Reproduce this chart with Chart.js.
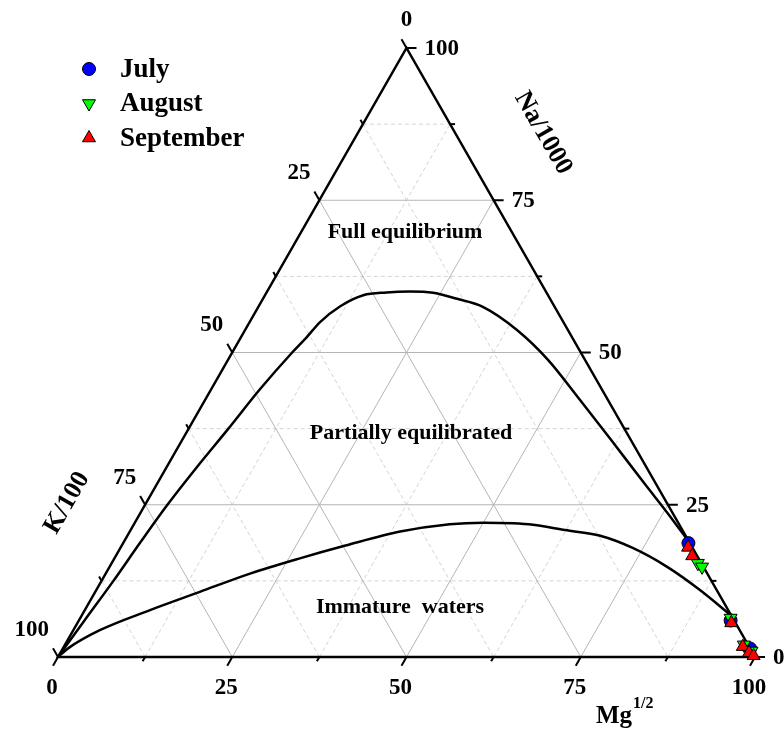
<!DOCTYPE html>
<html>
<head>
<meta charset="utf-8">
<script src="https://cdn.jsdelivr.net/npm/chart.js@4.4.1/dist/chart.umd.min.js"></script>
<style>
  html, body { margin: 0; padding: 0; background: #fff; }
  #wrap { width: 784px; height: 732px; }
</style>
</head>
<body>
<div id="wrap"><canvas id="giggenbach"></canvas></div>
<script>
// --- ticks of the three ternary axes (%) ---
const majorTicks = [0, 25, 50, 75, 100];
const minorTicks = [12.5, 37.5, 62.5, 87.5];

// --- boundary curves: Na/1000 and Mg^1/2 in %, K/100 is the remainder ---
const fullEqNa = [0, 6, 12.5, 18.8, 25, 31, 37.5, 44, 50, 52.4, 55.0, 57.6, 59.4, 59.85, 60.0, 59.8, 58.9, 57.5, 53.7, 48.8, 42.2, 35.5, 28.4, 23.5, 18.7];
const fullEqMg = [0, 0.8, 1.7, 2.4, 3.2, 4.3, 5.7, 7.0, 8.6, 9.4, 10.1, 11.7, 14.1, 17.2, 20.5, 23.9, 27.5, 32.2, 39.0, 45.9, 53.8, 61.7, 70.0, 75.8, 81.3];

const immatureNa = [0, 1.5, 4.4, 7.7, 10.7, 13.7, 16.2, 18.3, 20.6, 21.8, 22.05, 21.95, 21.7, 20.85, 19.9, 17.9, 14.8, 11.0, 6.8];
const immatureMg = [0, 0.8, 3.8, 9.35, 15.0, 20.7, 26.6, 32.1, 38.8, 45.3, 50.0, 54.3, 57.3, 62.3, 67.85, 73.5, 80.0, 86.6, 93.2];

// --- water samples (Na/1000, K/100, Mg^1/2) ---
const julyNa = [18.7, 6.0, 1.4];
const julyK  = [0.2, 0.5, 0.0];
const julyMg = [81.1, 93.5, 98.6];

const augustNa = [15.4, 14.8, 6.4, 2.0, 1.0];
const augustK  = [0.5, 0.2, 0.3, 0.6, 0.0];
const augustMg = [84.1, 85.0, 93.3, 97.4, 99.0];

const septemberNa = [18.0, 16.6, 5.6, 1.7, 0.7, 0.2];
const septemberK  = [0.6, 0.7, 0.6, 0.9, 0.5, 0.1];
const septemberMg = [81.4, 82.7, 93.8, 97.4, 98.8, 99.7];

const FONT = '"Liberation Serif", "Times New Roman", serif';

// ternary -> cartesian (x along the Mg base, y = Na height)
function toXY(na, k, mg) {
    const s = na + k + mg;
    return { x: (mg + na / 2) / s * 100, y: na / s * 100 };
}
function samples(na, k, mg) {
    return na.map((v, i) => toXY(v, k[i], mg[i]));
}
function curve(na, mg) {
    return na.map((v, i) => toXY(v, 100 - v - mg[i], mg[i]));
}

// --- triangle frame, grid, ticks and labels ---
const ternaryAxes = {
    id: 'ternaryAxes',
    beforeDraw(chart) {
        const ctx = chart.ctx;
        ctx.save();
        ctx.fillStyle = '#fff';
        ctx.fillRect(0, 0, chart.width, chart.height);
        ctx.restore();
    },
    beforeDatasetsDraw(chart) {
        const ctx = chart.ctx;
        const P = (na, mg) => {
            const p = toXY(na, 100 - na - mg, mg);
            return [chart.scales.x.getPixelForValue(p.x), chart.scales.y.getPixelForValue(p.y)];
        };
        const seg = (a, b) => {
            ctx.beginPath();
            ctx.moveTo(a[0], a[1]);
            ctx.lineTo(b[0], b[1]);
            ctx.stroke();
        };
        ctx.save();
        // grid lines
        const gridFamily = (v) => {
            seg(P(v, 0), P(v, 100 - v));           // Na = v
            seg(P(0, v), P(100 - v, v));           // Mg = v
            seg(P(100 - v, 0), P(0, 100 - v));     // K = v
        };
        ctx.lineWidth = 1;
        ctx.strokeStyle = '#d4d4d4';
        ctx.setLineDash([4, 3]);
        minorTicks.forEach(gridFamily);
        ctx.setLineDash([]);
        ctx.strokeStyle = '#b5b5b5';
        [25, 50, 75].forEach(gridFamily);

        // frame
        ctx.strokeStyle = '#000';
        ctx.lineWidth = 2.5;
        ctx.lineJoin = 'miter';
        const a = P(0, 0), b = P(0, 100), c = P(100, 0);
        ctx.beginPath();
        ctx.moveTo(a[0], a[1]);
        ctx.lineTo(b[0], b[1]);
        ctx.lineTo(c[0], c[1]);
        ctx.closePath();
        ctx.stroke();

        // ticks pointing outwards along each axis' grid direction
        const c60 = 0.5, s60 = Math.sqrt(3) / 2;
        const tick = (pt, dx, dy, len) => seg(pt, [pt[0] + dx * len, pt[1] + dy * len]);
        ctx.lineWidth = 2;
        const drawTicks = (vals, len) => vals.forEach(v => {
            tick(P(v, 100 - v), 1, 0, len);          // Na, right side
            tick(P(100 - v, 0), -c60, -s60, len);    // K, left side
            tick(P(0, v), -c60, s60, len);           // Mg, base
        });
        drawTicks(majorTicks, 10);
        drawTicks(minorTicks, 5);
        ctx.restore();
    },
    afterDatasetsDraw(chart) {
        const ctx = chart.ctx;
        const P = (na, mg) => {
            const p = toXY(na, 100 - na - mg, mg);
            return [chart.scales.x.getPixelForValue(p.x), chart.scales.y.getPixelForValue(p.y)];
        };
        ctx.save();
        ctx.fillStyle = '#000';
        ctx.font = 'bold 23px ' + FONT;

        // tick labels
        majorTicks.forEach(v => {
            let p = P(v, 100 - v);
            ctx.textAlign = 'left';
            ctx.textBaseline = 'middle';
            ctx.fillText(String(v), p[0] + 18, p[1] + 1);

            p = P(0, v);
            ctx.textAlign = 'center';
            ctx.textBaseline = 'top';
            ctx.fillText(String(v), p[0] - 6, p[1] + 20);

            p = P(100 - v, 0);
            ctx.textBaseline = 'middle';
            if (v === 0) {
                ctx.textAlign = 'center';
                ctx.fillText('0', p[0], p[1] - 28);
            } else {
                ctx.textAlign = 'right';
                ctx.fillText(String(v), p[0] - 9, p[1] - 27);
            }
        });

        // axis titles
        ctx.font = 'bold 26px ' + FONT;
        ctx.textAlign = 'center';
        ctx.textBaseline = 'middle';
        ctx.save();
        ctx.translate(543, 133);
        ctx.rotate(Math.PI / 3);
        ctx.fillText('Na/1000', 0, 0);
        ctx.restore();
        ctx.save();
        ctx.translate(67, 503);
        ctx.rotate(-Math.PI / 3);
        ctx.fillText('K/100', 0, 0);
        ctx.restore();

        ctx.textAlign = 'left';
        ctx.textBaseline = 'alphabetic';
        ctx.font = 'bold 25px ' + FONT;
        ctx.fillText('Mg', 596, 723);
        const mw = ctx.measureText('Mg').width;
        ctx.font = 'bold 16px ' + FONT;
        ctx.fillText('1/2', 596 + mw + 1, 708);

        // region names
        ctx.font = 'bold 22px ' + FONT;
        ctx.textAlign = 'center';
        ctx.textBaseline = 'middle';
        ctx.fillText('Full equilibrium', 405, 232);
        ctx.fillText('Partially equilibrated', 411, 433);
        ctx.fillText('Immature  waters', 400, 607);

        // legend
        const items = chart.data.datasets.filter(d => d.legendRow !== undefined)
            .sort((p, q) => p.legendRow - q.legendRow);
        items.forEach((d, i) => {
            const y = 69 + i * 34.5;
            ctx.fillStyle = d.backgroundColor;
            ctx.strokeStyle = d.borderColor;
            ctx.lineWidth = d.borderWidth;
            Chart.helpers.drawPoint(ctx, {
                pointStyle: d.pointStyle,
                rotation: d.rotation || 0,
                radius: d.pointRadius,
                borderWidth: d.borderWidth
            }, 89, y);
            ctx.fillStyle = '#000';
            ctx.font = 'bold 27px ' + FONT;
            ctx.textAlign = 'left';
            ctx.textBaseline = 'middle';
            ctx.fillText(d.label, 120, y + 1);
        });
        ctx.restore();
    }
};

const marker = { borderColor: '#000', borderWidth: 1, clip: false };
const boundary = {
    showLine: true, pointRadius: 0, borderColor: '#000', borderWidth: 2.5,
    cubicInterpolationMode: 'monotone', clip: false
};

new Chart(document.getElementById('giggenbach'), {
    type: 'scatter',
    data: {
        datasets: [
            Object.assign({
                label: 'September', legendRow: 2, order: 1,
                data: samples(septemberNa, septemberK, septemberMg),
                backgroundColor: '#ff0000', pointStyle: 'triangle', pointRadius: 7.5
            }, marker),
            Object.assign({
                label: 'August', legendRow: 1, order: 2,
                data: samples(augustNa, augustK, augustMg),
                backgroundColor: '#00ff00', pointStyle: 'triangle', rotation: 180, pointRadius: 7.5
            }, marker),
            Object.assign({
                label: 'July', legendRow: 0, order: 3,
                data: samples(julyNa, julyK, julyMg),
                backgroundColor: '#0000ff', pointStyle: 'circle', pointRadius: 6.5
            }, marker),
            Object.assign({
                label: 'Full equilibrium', order: 4,
                data: curve(fullEqNa, fullEqMg)
            }, boundary),
            Object.assign({
                label: 'Immature waters', order: 5,
                data: curve(immatureNa, immatureMg)
            }, boundary)
        ]
    },
    options: {
        responsive: true,
        maintainAspectRatio: false,
        animation: false,
        layout: { padding: { left: 58, right: 29, top: 48, bottom: 75 } },
        scales: {
            x: { type: 'linear', min: 0, max: 100, display: false },
            y: { type: 'linear', min: 0, max: 100, display: false }
        },
        plugins: {
            legend: { display: false },
            tooltip: { enabled: false }
        }
    },
    plugins: [ternaryAxes]
});
</script>
</body>
</html>
